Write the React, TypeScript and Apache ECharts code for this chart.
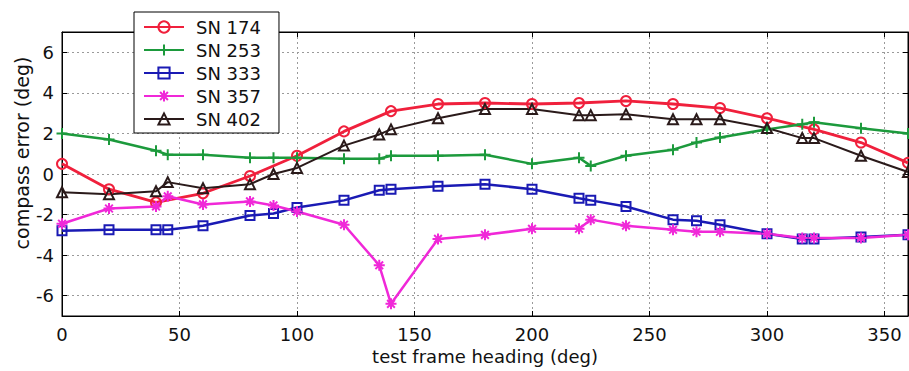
import React, { useEffect, useRef } from "react";
import * as echarts from "echarts";

const headingsA = [0, 20, 40, 60, 80, 100, 120, 140, 160, 180, 200, 220, 240, 260, 280, 300, 320, 340, 360];
const headingsB = [0, 20, 40, 45, 60, 80, 90, 100, 120, 135, 140, 160, 180, 200, 220, 225, 240, 260, 270, 280, 300, 315, 320, 340, 360];

const sn174 = [0.5, -0.75, -1.4, -0.95, -0.1, 0.9, 2.1, 3.1, 3.45, 3.5, 3.45, 3.5, 3.6, 3.45, 3.25, 2.75, 2.2, 1.55, 0.55];
const sn253 = [2.0, 1.7, 1.15, 0.95, 0.95, 0.8, 0.8, 0.8, 0.75, 0.75, 0.9, 0.9, 0.95, 0.5, 0.8, 0.4, 0.9, 1.2, 1.55, 1.8, 2.2, 2.45, 2.55, 2.25, 2.0];
const sn333 = [-2.8, -2.75, -2.75, -2.75, -2.55, -2.05, -1.95, -1.65, -1.3, -0.8, -0.75, -0.6, -0.5, -0.75, -1.2, -1.3, -1.6, -2.25, -2.3, -2.5, -2.95, -3.2, -3.2, -3.1, -3.0];
const sn357 = [-2.45, -1.7, -1.6, -1.1, -1.5, -1.35, -1.55, -1.85, -2.5, -4.5, -6.4, -3.2, -3.0, -2.7, -2.7, -2.25, -2.55, -2.75, -2.85, -2.85, -2.95, -3.15, -3.15, -3.15, -3.0];
const sn402 = [-0.9, -1.0, -0.85, -0.4, -0.7, -0.5, 0.0, 0.3, 1.4, 1.95, 2.2, 2.75, 3.2, 3.2, 2.9, 2.9, 2.95, 2.7, 2.7, 2.7, 2.27, 1.77, 1.77, 0.9, 0.1];

const xTicks = [0, 50, 100, 150, 200, 250, 300, 350];
const yTicks = [-6, -4, -2, 0, 2, 4, 6];

const FONT = "DejaVu Sans";

const zip = (xs: number[], ys: number[]) => xs.map((x, i) => [x, ys[i]]);

export default function App() {
  const ref = useRef<HTMLDivElement>(null);
  useEffect(() => {
    const chart = echarts.init(ref.current!, null, { renderer: "svg" });
    const mk = (
      name: string,
      xs: number[],
      ys: number[],
      color: string,
      symbol: string,
      size: number,
      lw: number
    ) => ({
      type: "line",
      name,
      data: zip(xs, ys),
      color,
      symbol,
      symbolSize: size,
      showSymbol: true,
      lineStyle: { color, width: lw },
      itemStyle: { color: "rgba(255,255,255,0)", borderColor: color, borderWidth: 2 },
      emphasis: { disabled: true },
      clip: false,
      z: 3,
    });
    const plus = "path://M5,0L5,10M0,5L10,5";
    const star = "path://M5,0L5,10M0,5L10,5M1.5,1.5L8.5,8.5M1.5,8.5L8.5,1.5";
    const axisCommon = {
      axisLine: { show: true, onZero: false, lineStyle: { color: "#000", width: 1 } },
      axisTick: { show: true, inside: true, length: 5, lineStyle: { color: "#000" } },
    };
    chart.setOption({
      animation: false,
      backgroundColor: "#fff",
      grid: {
        left: 62,
        right: 1,
        top: 32,
        bottom: 55,
        show: true,
        borderColor: "#000",
        borderWidth: 1,
        containLabel: false,
        outerBoundsMode: "none",
      },
      legend: {
        orient: "vertical",
        left: 134,
        top: 12,
        padding: [5, 18, 4, 9],
        itemWidth: 40,
        itemHeight: 14,
        itemGap: 3,
        backgroundColor: "#fff",
        borderColor: "#000",
        borderWidth: 1,
        textStyle: { fontFamily: FONT, fontSize: 18, lineHeight: 20, color: "#111", padding: [0, 0, 0, 7] },
        data: ["SN 174", "SN 253", "SN 333", "SN 357", "SN 402"],
      },
      xAxis: [
        {
          type: "value",
          min: 0,
          max: 360,
          ...axisCommon,
          axisTick: { ...axisCommon.axisTick, customValues: xTicks },
          axisLabel: {
            customValues: xTicks,
            fontFamily: FONT,
            fontSize: 18,
            color: "#111",
            margin: 9,
          },
          splitLine: { show: true, lineStyle: { color: "#9a9a9a", type: [2, 3], width: 1 } },
          name: "test frame heading (deg)",
          nameLocation: "middle",
          nameGap: 29,
          nameTextStyle: { fontFamily: FONT, fontSize: 18, color: "#111" },
        },
        {
          type: "value",
          min: 0,
          max: 360,
          position: "top",
          ...axisCommon,
          axisTick: { ...axisCommon.axisTick, customValues: xTicks },
          axisLabel: { show: false, customValues: xTicks },
          splitLine: { show: false },
        },
      ],
      yAxis: [
        {
          type: "value",
          min: -7,
          max: 7,
          ...axisCommon,
          axisTick: { ...axisCommon.axisTick, customValues: yTicks },
          axisLabel: {
            customValues: yTicks,
            fontFamily: FONT,
            fontSize: 18,
            color: "#111",
            margin: 8,
          },
          splitLine: { show: true, lineStyle: { color: "#9a9a9a", type: [2, 3], width: 1 } },
        },
        {
          type: "value",
          min: -7,
          max: 7,
          position: "right",
          ...axisCommon,
          axisTick: { ...axisCommon.axisTick, customValues: yTicks },
          axisLabel: { show: false, customValues: yTicks },
          splitLine: { show: false },
        },
      ],
      graphic: [
        {
          type: "text",
          x: 22,
          y: 153,
          rotation: Math.PI / 2,
          style: {
            text: "compass error (deg)",
            fontFamily: FONT,
            fontSize: 19,
            fill: "#111",
            align: "center",
            verticalAlign: "middle",
          },
        },
      ],
      series: [
        mk("SN 174", headingsA, sn174, "#f0203c", "circle", 10, 2.8),
        mk("SN 253", headingsB, sn253, "#1c9a3c", plus, 11, 2.5),
        mk("SN 333", headingsB, sn333, "#1a1ab4", "rect", 9, 2.5),
        mk("SN 357", headingsB, sn357, "#f028d8", star, 11, 2.5),
        mk("SN 402", headingsB, sn402, "#2a1a1a", "triangle", 10, 2),
      ],
    });
    return () => chart.dispose();
  }, []);
  return (
    <div
      ref={ref}
      style={{ position: "fixed", left: 0, top: 0, width: 909, height: 371, background: "#fff" }}
    />
  );
}
